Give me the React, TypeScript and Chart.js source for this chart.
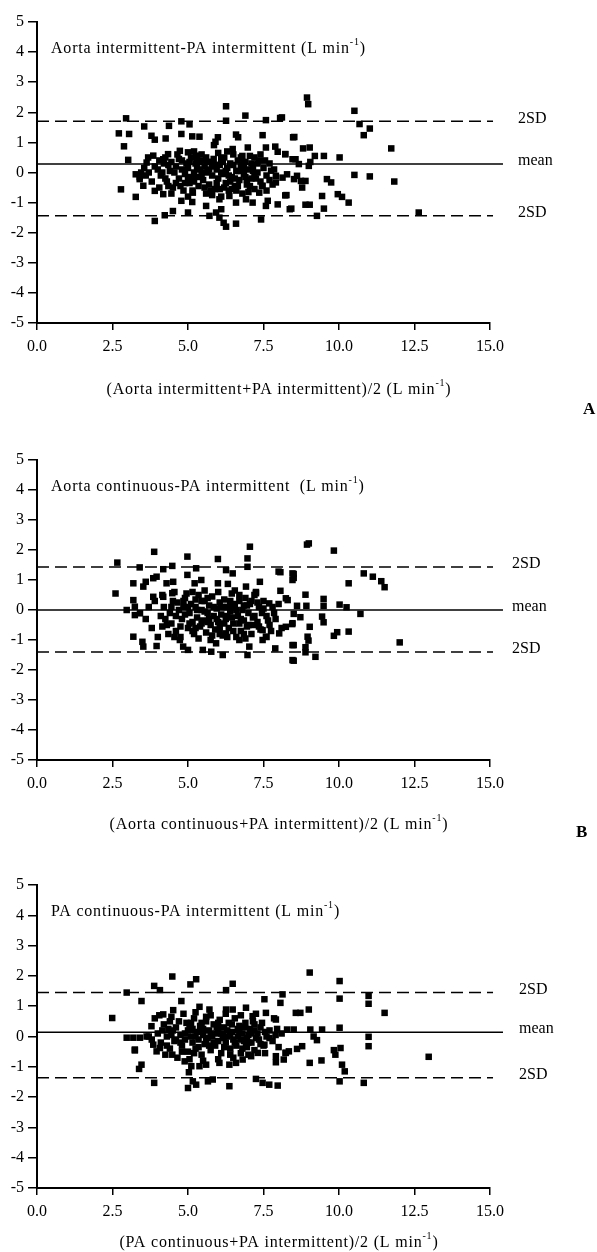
import React, { useEffect, useRef } from 'react';
import { Chart, registerables } from 'chart.js';

Chart.register(...registerables);

const FONT = '"Liberation Serif", "Times New Roman", serif';

// ---------- data ----------
const xTickStep = 2.5;
const yTickStep = 1;
const xRange = [0, 15];
const yRange = [-5, 5];

const upperSD = [1.7, 1.43, 1.45];
const meanDiff = [0.28, 0.0, 0.14];
const lowerSD = [-1.44, -1.4, -1.36];

const innerTitles = [
  'Aorta intermittent-PA intermittent (L min',
  'Aorta continuous-PA intermittent  (L min',
  'PA continuous-PA intermittent (L min',
];
const xTitles = [
  '(Aorta intermittent+PA intermittent)/2 (L min',
  '(Aorta continuous+PA intermittent)/2 (L min',
  '(PA continuous+PA intermittent)/2 (L min',
];
const panelLetters = ['A', 'B', ''];
const limitLabels = ['2SD', 'mean', '2SD'];

const panelAPoints: number[][] = [
  [6.26, 2.2], [2.95, 1.8], [4.78, 1.7], [5.05, 1.6], [4.37, 1.55], [3.55, 1.53], [6.26, 1.72], [6.9, 1.89],
  [7.58, 1.74], [8.05, 1.81], [2.71, 1.3], [3.05, 1.28], [3.79, 1.22], [3.9, 1.09], [4.26, 1.13], [4.78, 1.28],
  [5.14, 1.2], [5.38, 1.19], [5.99, 1.17], [5.91, 1.02], [5.86, 0.91], [6.59, 1.26], [6.66, 1.17], [7.47, 1.24],
  [8.48, 1.17], [2.88, 0.87], [3.02, 0.42], [7.58, 0.83], [7.89, 0.86], [6.98, 0.83], [6.48, 0.78], [7.97, 0.69],
  [8.22, 0.61], [8.46, 0.44], [2.78, -0.56], [3.27, -0.81], [3.27, -0.06], [3.4, -0.22], [3.52, -0.44], [3.63, 0.33],
  [3.68, 0.5], [3.85, 0.56], [3.9, -0.61], [4.18, -0.72], [4.18, 0.44], [4.34, 0.61], [4.5, -1.28], [4.23, -1.42],
  [3.9, -1.61], [4.78, -0.94], [5.0, -1.33], [5.14, -0.98], [5.16, -0.67], [4.73, 0.72], [5.0, 0.67], [5.27, 0.56],
  [5.6, 0.5], [5.6, -1.11], [5.71, -1.44], [5.93, -1.33], [6.1, -1.22], [6.04, -1.5], [6.18, -1.67], [6.26, -1.8],
  [6.59, -1.7], [6.04, -0.89], [6.37, -0.78], [6.59, -1.0], [6.92, -0.89], [7.14, -1.0], [7.36, -0.67], [7.47, -0.44],
  [7.42, -1.56], [7.58, -1.11], [7.64, -0.94], [7.97, -1.06], [8.22, -0.76], [8.37, -1.22], [7.91, -0.33], [8.13, -0.17],
  [7.91, -0.11], [7.75, 0.06], [8.51, -0.22],
  [8.94, 2.49], [8.98, 2.27], [10.51, 2.05], [8.11, 1.83], [10.68, 1.61], [11.02, 1.46], [10.82, 1.24], [8.52, 1.18],
  [8.81, 0.8], [9.03, 0.83], [11.73, 0.8], [8.22, 0.61], [8.56, 0.44], [9.2, 0.55], [9.5, 0.55], [10.02, 0.5],
  [8.67, 0.28], [9.0, 0.22], [9.05, 0.35], [8.28, -0.06], [8.61, -0.11], [8.74, -0.28], [8.89, -0.28], [8.78, -0.5],
  [9.6, -0.22], [9.74, -0.33], [10.51, -0.08], [11.02, -0.13], [11.83, -0.3], [8.26, -0.75], [9.44, -0.78], [9.96, -0.72],
  [10.1, -0.81], [10.32, -1.0], [8.42, -1.2], [8.89, -1.07], [9.03, -1.07], [9.5, -1.2], [9.27, -1.44], [12.64, -1.33],
  [4.0, 0.1], [4.1, -0.1], [4.2, 0.3], [4.3, -0.3], [4.4, 0.05], [4.5, -0.5], [4.6, 0.2], [4.7, -0.2], [4.8, 0.4],
  [4.9, -0.05], [5.0, 0.15], [5.05, -0.35], [5.1, 0.5], [5.15, -0.6], [5.2, 0.0], [5.25, 0.3], [5.3, -0.15], [5.35, -0.45],
  [5.4, 0.1], [5.45, 0.6], [5.5, -0.25], [5.55, 0.2], [5.6, -0.7], [5.65, 0.05], [5.7, -0.4], [5.75, 0.35], [5.8, -0.1],
  [5.85, 0.45], [5.9, -0.55], [5.95, 0.1], [6.0, -0.2], [6.05, 0.25], [6.1, -0.8], [6.15, -0.05], [6.2, 0.5], [6.25, -0.35],
  [6.3, 0.15], [6.35, -0.6], [6.4, 0.3], [6.45, -0.15], [6.5, 0.6], [6.55, -0.45], [6.6, 0.05], [6.65, 0.4], [6.7, -0.25],
  [6.75, 0.2], [6.8, -0.7], [6.85, -0.05], [6.9, 0.35], [6.95, -0.4], [7.0, 0.1], [7.05, 0.55], [7.1, -0.2], [7.15, 0.25],
  [7.2, -0.55], [7.3, 0.0], [7.35, 0.4], [7.4, -0.3], [7.5, 0.15], [7.6, -0.1], [7.7, 0.3], [7.8, -0.4], [3.6, -0.1],
  [3.7, 0.0], [3.8, -0.3], [3.9, 0.2], [4.05, -0.5], [4.25, 0.5], [4.45, -0.7], [4.65, 0.6], [4.85, -0.6], [5.0, -0.8],
  [5.2, 0.7], [5.5, 0.4], [5.6, 0.0], [5.8, -0.75], [6.0, 0.65], [6.2, -0.5], [6.3, 0.7], [6.6, -0.6], [6.8, 0.55],
  [7.0, -0.65], [7.2, 0.5], [7.4, 0.6], [7.6, -0.6], [3.45, 0.0], [3.4, -0.15], [3.55, 0.15], [4.35, 0.25], [4.55, 0.0],
  [4.75, -0.45], [4.95, 0.3], [5.1, -0.15], [5.3, 0.45], [5.7, 0.1], [5.9, 0.25], [6.1, 0.0], [6.4, -0.3], [6.7, 0.05],
  [6.9, -0.15], [7.1, 0.3],
  [4.15, 0.0], [4.25, -0.2], [4.45, 0.35], [4.6, -0.35], [4.8, 0.1], [4.9, -0.35], [5.05, 0.35], [5.2, -0.3], [5.3, 0.15],
  [5.45, -0.05], [5.55, -0.5], [5.65, 0.35], [5.8, 0.2], [5.95, -0.35], [6.05, -0.55], [6.15, 0.35], [6.25, 0.05], [6.35, -0.1],
  [6.5, 0.25], [6.55, -0.2], [6.65, -0.45], [6.75, 0.5], [6.85, 0.15], [6.95, -0.25], [7.05, -0.45], [7.15, 0.05], [7.25, -0.2],
  [7.3, 0.3], [7.45, -0.45], [7.55, 0.4], [7.7, -0.25], [7.85, 0.1], [4.05, 0.4], [4.35, -0.45], [4.7, 0.45], [5.0, -0.2],
  [5.4, 0.35], [5.75, -0.6], [6.1, 0.45], [6.45, -0.55], [6.8, 0.35], [7.2, -0.1],
];

const panelBPoints: number[][] = [
  [3.88, 1.94], [2.66, 1.58], [3.4, 1.42], [4.18, 1.36], [4.48, 1.47], [4.98, 1.78], [4.98, 1.17], [5.27, 1.39],
  [5.99, 1.7], [6.26, 1.33], [6.48, 1.22], [7.05, 2.11], [6.97, 1.72], [6.97, 1.44], [7.38, 0.94], [8.0, 1.28],
  [8.46, 1.22], [8.46, 1.0], [3.19, 0.89], [3.52, 0.78], [3.6, 0.94], [3.85, 1.06], [3.96, 1.11], [4.29, 0.89],
  [4.51, 0.94], [5.22, 0.89], [5.44, 1.0], [5.99, 0.89], [6.32, 0.87], [3.85, 0.44], [4.18, 0.44], [4.48, 0.56],
  [3.19, 0.33], [3.24, 0.11], [2.97, 0.0], [3.24, -0.17], [3.41, -0.11], [3.19, -0.89], [3.49, -1.06], [3.96, -1.2],
  [3.52, -1.22], [4.73, -1.0], [4.84, -1.22], [5.0, -1.33], [5.49, -1.33], [5.77, -1.39], [6.15, -1.5], [6.97, -1.5],
  [7.03, -1.22], [5.93, -1.11], [6.26, -0.78], [6.7, -1.0], [7.47, -1.0], [7.58, -0.89], [7.89, -1.28], [8.46, -1.17],
  [8.46, -1.67], [8.24, -0.56], [8.02, -0.78], [7.47, -0.67], [8.46, -0.44], [8.24, 0.39], [7.69, 0.22], [7.25, 0.56],
  [6.92, 0.78], [6.7, 0.5], [2.6, 0.55],
  [8.94, 2.18], [9.0, 2.22], [9.83, 1.98], [8.06, 1.26], [8.5, 1.2], [8.5, 1.07], [10.82, 1.22], [11.12, 1.11],
  [11.4, 0.96], [11.51, 0.76], [10.32, 0.89], [8.06, 0.64], [8.3, 0.33], [8.89, 0.51], [8.61, 0.14], [8.92, 0.14],
  [9.49, 0.37], [9.49, 0.14], [10.02, 0.18], [10.25, 0.09], [10.71, -0.13], [8.5, -0.13], [8.72, -0.24], [8.45, -0.47],
  [9.03, -0.56], [9.44, -0.22], [9.49, -0.41], [9.83, -0.86], [9.94, -0.74], [10.32, -0.72], [8.96, -0.89], [8.99, -1.02],
  [8.5, -1.17], [8.89, -1.24], [8.89, -1.41], [9.22, -1.56], [8.5, -1.69], [12.01, -1.08],
  [4.1, -0.2], [4.2, 0.1], [4.3, -0.5], [4.4, -0.1], [4.5, 0.3], [4.6, -0.7], [4.7, 0.0], [4.8, -0.3], [4.9, 0.4],
  [5.0, -0.6], [5.05, -0.1], [5.1, 0.2], [5.15, -0.4], [5.2, -0.8], [5.25, 0.1], [5.3, -0.25], [5.35, 0.5], [5.4, -0.55],
  [5.45, 0.0], [5.5, -0.35], [5.55, 0.3], [5.6, -0.75], [5.65, -0.1], [5.7, 0.15], [5.75, -0.5], [5.8, 0.45], [5.85, -0.2],
  [5.9, -0.65], [5.95, 0.05], [6.0, -0.4], [6.05, 0.25], [6.1, -0.15], [6.15, -0.85], [6.2, 0.35], [6.25, -0.3], [6.3, 0.1],
  [6.35, -0.6], [6.4, -0.05], [6.45, 0.55], [6.5, -0.45], [6.55, 0.2], [6.6, -0.9], [6.65, -0.2], [6.7, 0.3], [6.75, -0.7],
  [6.8, 0.0], [6.85, -0.35], [6.9, 0.4], [6.95, -0.55], [7.0, -0.1], [7.05, 0.2], [7.1, -0.8], [7.15, -0.25], [7.2, 0.5],
  [7.3, -0.4], [7.35, 0.1], [7.4, -0.65], [7.5, 0.3], [7.6, -0.2], [7.7, -0.5], [7.8, 0.1], [7.9, -0.3], [8.0, 0.2],
  [8.1, -0.6], [3.6, -0.3], [3.7, 0.1], [3.8, -0.6], [3.9, 0.3], [4.0, -0.9], [4.15, 0.5], [4.35, -0.8], [4.55, 0.6],
  [4.75, -0.9], [4.95, 0.55], [5.15, 0.6], [5.35, -0.95], [5.55, 0.65], [5.75, -1.0], [6.0, 0.6], [6.3, -0.9], [6.55, 0.65],
  [6.9, -0.95], [7.25, 0.6], [7.6, -0.9], [4.45, -0.45], [4.65, 0.25], [4.85, 0.1], [5.05, -0.45], [5.25, -0.6], [5.45, 0.3],
  [5.65, -0.4], [5.85, 0.1], [6.05, -0.6], [6.25, 0.1], [6.45, -0.25], [6.7, -0.45], [6.95, 0.15], [7.15, -0.5], [7.45, -0.1],
  [4.25, -0.3], [4.45, 0.1], [4.6, -0.2], [4.75, -0.55], [4.9, -0.15], [5.0, 0.1], [5.15, -0.7], [5.3, 0.0], [5.45, -0.45],
  [5.55, -0.05], [5.7, -0.3], [5.8, -0.85], [5.95, -0.3], [6.1, 0.1], [6.2, -0.45], [6.3, -0.2], [6.4, 0.3], [6.5, -0.7],
  [6.6, 0.0], [6.75, -0.3], [6.85, 0.15], [7.0, -0.5], [7.1, 0.3], [7.2, -0.2], [7.35, -0.55], [7.5, 0.05], [7.65, -0.35],
  [7.85, -0.1], [4.15, -0.55], [4.55, -0.9], [4.85, 0.3], [5.25, 0.35], [5.65, 0.4], [6.05, -0.8], [6.45, 0.1], [6.85, -0.8],
  [7.3, 0.25], [7.75, -0.7],
];

const panelCPoints: number[][] = [
  [4.48, 1.98], [5.27, 1.89], [3.88, 1.67], [4.07, 1.53], [5.08, 1.72], [6.48, 1.74], [6.26, 1.53], [2.97, 1.45],
  [4.78, 1.17], [3.46, 1.17], [5.38, 0.98], [7.53, 1.23], [8.13, 1.39], [7.58, 0.78], [2.49, 0.61], [3.79, 0.34],
  [4.51, 0.87], [4.18, 0.73], [5.71, 0.89], [6.26, 0.89], [6.48, 0.89], [6.92, 0.95], [7.14, 0.67], [7.91, 0.56],
  [8.57, 0.78], [3.24, -0.43], [2.97, -0.04], [3.19, -0.04], [3.41, -0.04], [3.63, 0.0],
  [9.03, 2.11], [10.02, 1.83], [10.02, 1.25], [10.98, 1.34], [10.98, 1.08], [11.51, 0.78], [9.0, 0.89], [8.72, 0.78],
  [8.06, 1.11], [8.5, 0.23], [8.28, 0.23], [9.44, 0.23], [10.02, 0.29], [9.05, 0.23], [9.16, 0.0], [9.27, -0.12],
  [10.98, -0.01], [10.98, -0.32], [10.05, -0.38], [9.83, -0.45], [12.97, -0.67],
  [8.23, -0.54], [8.34, -0.49], [8.61, -0.41], [8.78, -0.32], [9.03, -0.87], [9.42, -0.79], [9.88, -0.6], [10.1, -0.93],
  [10.19, -1.15], [10.02, -1.48], [10.82, -1.53], [8.17, -0.76],
  [3.24, -0.46], [3.46, -0.93], [3.38, -1.07], [3.88, -1.53], [5.0, -1.7], [5.03, -1.18], [5.16, -1.48], [5.27, -1.59],
  [5.66, -1.48], [5.82, -1.42], [6.37, -1.64], [7.25, -1.4], [7.47, -1.53], [7.69, -1.59], [7.97, -1.62], [4.48, -0.6],
  [4.89, -0.82], [5.11, -0.98], [5.38, -0.98], [5.6, -0.93], [6.04, -0.87], [6.37, -0.93], [6.59, -0.87], [6.81, -0.76],
  [7.09, -0.65], [7.31, -0.54], [7.91, -0.65], [7.91, -0.85], [8.24, -0.54], [3.96, -0.49], [3.85, -0.27], [4.07, -0.38],
  [6.92, -0.32], [7.53, -0.27],
  [4.0, 0.1], [4.1, -0.2], [4.2, 0.4], [4.3, 0.0], [4.4, -0.4], [4.5, 0.2], [4.6, -0.1], [4.7, 0.5], [4.8, -0.3],
  [4.9, 0.1], [5.0, -0.5], [5.05, 0.3], [5.1, 0.0], [5.15, -0.2], [5.2, 0.6], [5.25, -0.4], [5.3, 0.15], [5.35, -0.1],
  [5.4, 0.35], [5.45, -0.6], [5.5, 0.05], [5.55, -0.25], [5.6, 0.5], [5.65, -0.05], [5.7, 0.2], [5.75, -0.45], [5.8, 0.0],
  [5.85, 0.4], [5.9, -0.3], [5.95, 0.1], [6.0, -0.15], [6.05, 0.55], [6.1, -0.55], [6.15, 0.05], [6.2, 0.3], [6.25, -0.2],
  [6.3, 0.0], [6.35, 0.45], [6.4, -0.4], [6.45, 0.15], [6.5, -0.1], [6.55, 0.6], [6.6, -0.3], [6.65, 0.0], [6.7, 0.35],
  [6.75, -0.55], [6.8, 0.1], [6.85, -0.15], [6.9, 0.45], [6.95, -0.35], [7.0, 0.05], [7.05, 0.25], [7.1, -0.2], [7.15, 0.5],
  [7.2, -0.45], [7.3, 0.1], [7.35, -0.1], [7.4, 0.3], [7.5, -0.3], [7.6, 0.0], [7.7, 0.2], [7.8, -0.15], [7.9, 0.05],
  [8.0, -0.35], [8.1, 0.1], [3.7, 0.0], [3.8, -0.1], [3.9, 0.6], [4.05, 0.7], [4.25, -0.6], [4.45, 0.65], [4.65, -0.7],
  [4.85, 0.75], [5.05, -0.75], [5.25, 0.8], [5.5, -0.8], [5.75, 0.7], [6.0, -0.75], [6.25, 0.75], [6.5, -0.7], [6.75, 0.7],
  [7.0, -0.6], [7.25, 0.75], [7.55, -0.55], [7.85, 0.6], [4.35, 0.25], [4.55, -0.15], [4.75, 0.05], [4.95, 0.45], [5.15, 0.25],
  [5.45, 0.45], [5.7, -0.3], [5.95, 0.3], [6.2, -0.05], [6.45, 0.4], [6.7, 0.15], [6.95, -0.05], [7.2, 0.2], [7.45, 0.45],
  [4.15, 0.2], [4.3, -0.3], [4.45, 0.05], [4.6, 0.3], [4.75, -0.2], [4.9, -0.1], [5.0, 0.2], [5.1, 0.45], [5.25, 0.0],
  [5.35, -0.35], [5.5, 0.25], [5.6, -0.15], [5.75, 0.1], [5.85, -0.2], [6.0, 0.25], [6.1, 0.1], [6.2, -0.35], [6.3, 0.2],
  [6.4, 0.05], [6.55, -0.2], [6.65, 0.25], [6.75, -0.1], [6.85, 0.3], [7.0, -0.2], [7.1, 0.1], [7.25, -0.05], [7.4, -0.25],
  [7.55, 0.15], [7.7, -0.05], [7.95, 0.25], [4.4, 0.5], [4.8, -0.5], [5.2, -0.55], [5.6, 0.65], [6.0, 0.45], [6.4, -0.6],
  [6.8, -0.4], [7.2, 0.4],
];

const panelPoints = [panelAPoints, panelBPoints, panelCPoints];

// ---------- layout (positions / sizes) ----------
const layouts = [
  { top: 0, h: 425, padTop: 22, padBottom: 62, xTitleY: 390, letterX: 583, letterY: 410, labelX: 518 },
  { top: 425, h: 430, padTop: 35, padBottom: 55, xTitleY: 400, letterX: 576, letterY: 408, labelX: 512 },
  { top: 855, h: 397, padTop: 30, padBottom: 24, xTitleY: 388, letterX: 576, letterY: 400, labelX: 519 },
];

const FS = 16;
const SPACING = '0.8px';

function setFont(ctx: CanvasRenderingContext2D, size: number) {
  ctx.font = `${size}px ${FONT}`;
  (ctx as any).letterSpacing = SPACING;
}

function supTextWidth(ctx: CanvasRenderingContext2D, main: string, size: number) {
  setFont(ctx, size);
  let w = ctx.measureText(main).width;
  setFont(ctx, Math.round(size * 0.65));
  w += ctx.measureText('-1').width;
  setFont(ctx, size);
  w += ctx.measureText(')').width;
  return w;
}

function drawSupText(ctx: CanvasRenderingContext2D, x: number, y: number, main: string, size: number) {
  ctx.textAlign = 'left';
  ctx.textBaseline = 'middle';
  setFont(ctx, size);
  ctx.fillText(main, x, y);
  let w = ctx.measureText(main).width;
  setFont(ctx, Math.round(size * 0.65));
  ctx.fillText('-1', x + w, y - size * 0.4);
  w += ctx.measureText('-1').width;
  setFont(ctx, size);
  ctx.fillText(')', x + w, y);
}

function buildConfig(i: number): any {
  const L = layouts[i];
  const pts = panelPoints[i].map(([x, y]) => ({ x, y }));
  const textPlugin = {
    id: 'panelText' + i,
    afterDraw(chart: any) {
      const ctx: CanvasRenderingContext2D = chart.ctx;
      const ys = chart.scales.y;
      ctx.save();
      ctx.fillStyle = '#000';
      drawSupText(ctx, 51, ys.getPixelForValue(4.1), innerTitles[i], FS);
      setFont(ctx, FS);
      (ctx as any).letterSpacing = '0px';
      ctx.textAlign = 'left';
      ctx.textBaseline = 'middle';
      const vals = [upperSD[i], meanDiff[i], lowerSD[i]];
      vals.forEach((v, k) => {
        ctx.fillText(limitLabels[k], L.labelX, ys.getPixelForValue(v) - 3);
      });
      const w = supTextWidth(ctx, xTitles[i], FS);
      drawSupText(ctx, 279 - w / 2, L.xTitleY, xTitles[i], FS);
      if (panelLetters[i]) {
        ctx.font = `bold 17px ${FONT}`;
        (ctx as any).letterSpacing = '0px';
        ctx.textAlign = 'left';
        ctx.textBaseline = 'middle';
        ctx.fillText(panelLetters[i], L.letterX, L.letterY);
      }
      ctx.restore();
    },
  };
  const lineDs = (v: number, xEnd: number, dashed: boolean) => ({
    type: 'line',
    data: [{ x: 0, y: v }, { x: xEnd, y: v }],
    borderColor: '#000',
    borderWidth: 1.5,
    borderDash: dashed ? [12, 6] : [],
    pointRadius: 0,
    fill: false,
    clip: false,
  });
  return {
    type: 'scatter',
    data: {
      datasets: [
        lineDs(upperSD[i], 15.1, true),
        lineDs(meanDiff[i], 15.43, false),
        lineDs(lowerSD[i], 15.1, true),
        {
          type: 'scatter',
          data: pts,
          pointStyle: 'rect',
          pointRadius: 4.6,
          backgroundColor: '#000',
          borderWidth: 0,
        },
      ],
    },
    options: {
      animation: false,
      responsive: false,
      maintainAspectRatio: false,
      events: [],
      layout: { padding: { top: L.padTop, right: 107, bottom: L.padBottom, left: 0 } },
      plugins: { legend: { display: false }, tooltip: { enabled: false }, title: { display: false } },
      scales: {
        x: {
          type: 'linear',
          min: xRange[0],
          max: xRange[1],
          ticks: {
            stepSize: xTickStep,
            color: '#000',
            font: { family: FONT, size: FS },
            padding: 7,
            maxRotation: 0,
            callback: (v: number) => Number(v).toFixed(1),
          },
          grid: { drawOnChartArea: false, drawTicks: true, tickLength: 7, color: '#000', lineWidth: 1.5 },
          border: { display: true, color: '#000', width: 2 },
          afterFit: (s: any) => { s.height = 40; },
        },
        y: {
          type: 'linear',
          min: yRange[0],
          max: yRange[1],
          ticks: {
            stepSize: yTickStep,
            color: '#000',
            font: { family: FONT, size: FS },
            padding: 4,
            callback: (v: number) => String(v),
          },
          grid: { drawOnChartArea: false, drawTicks: true, tickLength: 9, color: '#000', lineWidth: 1.5 },
          border: { display: true, color: '#000', width: 2 },
          afterFit: (s: any) => { s.width = 37; },
        },
      },
    },
    plugins: [textPlugin],
  };
}

function Panel({ index }: { index: number }) {
  const ref = useRef<HTMLCanvasElement>(null);
  const L = layouts[index];
  useEffect(() => {
    const chart = new Chart(ref.current as HTMLCanvasElement, buildConfig(index));
    return () => chart.destroy();
  }, [index]);
  return (
    <canvas
      ref={ref}
      width={597}
      height={L.h}
      style={{ position: 'absolute', left: 0, top: L.top, width: 597, height: L.h, display: 'block' }}
    />
  );
}

export default function App() {
  return (
    <div style={{ position: 'absolute', left: 0, top: 0, width: 597, height: 1252, background: '#fff', overflow: 'hidden' }}>
      <Panel index={0} />
      <Panel index={1} />
      <Panel index={2} />
    </div>
  );
}
